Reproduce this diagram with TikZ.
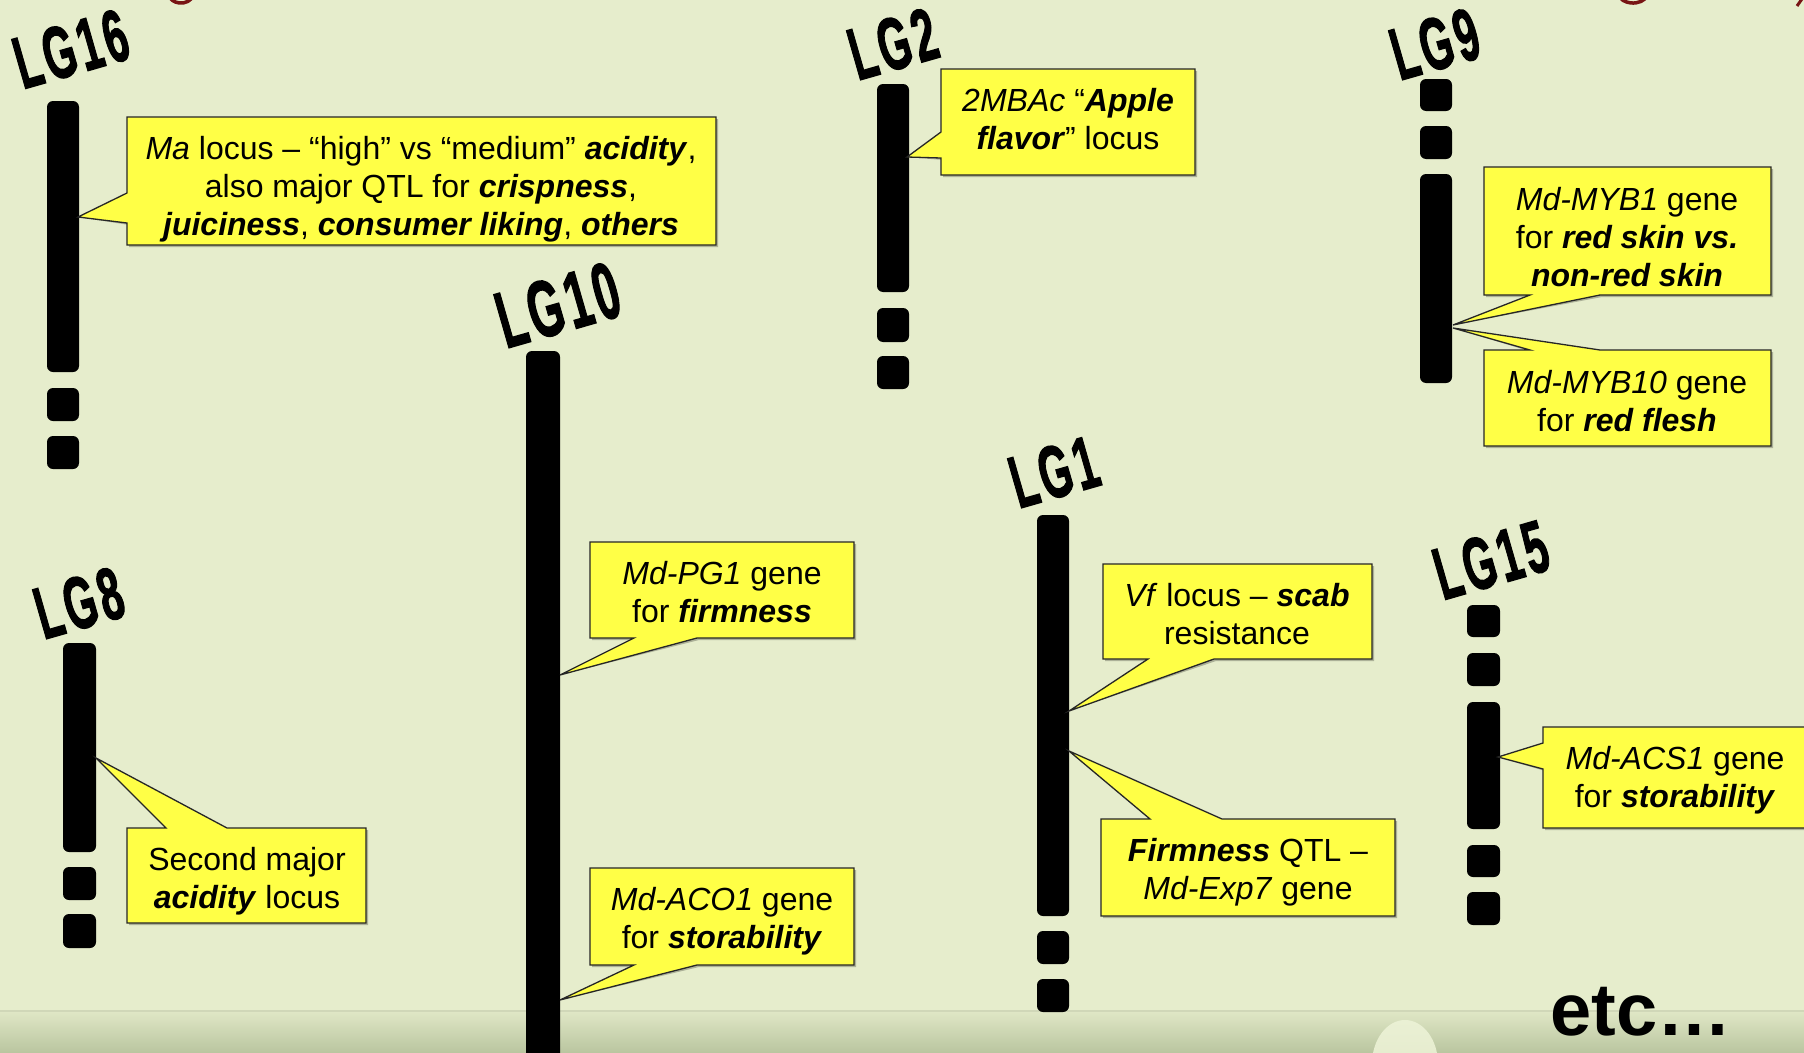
\documentclass[tikz,border=0pt]{standalone}
\usepackage{fontspec}
\setmainfont{Liberation Sans}
\newfontfamily\lgfont{Liberation Sans Bold}[FakeBold=2,LetterSpace=9]
\usetikzlibrary{calc}
\definecolor{bgcol}{RGB}{230,237,204}
\definecolor{callyellow}{RGB}{255,255,70}
\definecolor{bandtop}{RGB}{224,231,198}
\definecolor{bandbot}{RGB}{186,198,160}
\definecolor{bandline}{RGB}{208,215,184}
\definecolor{blobcol}{RGB}{234,240,212}
\definecolor{titlered}{RGB}{120,20,20}
\newcommand{\BI}[1]{\textbf{\textit{#1}}}
\newcommand{\callshape}[1]{\fill[black,opacity=0.25,xshift=2pt,yshift=-2pt] #1;\filldraw[callout] #1;}
\tikzset{
  chrom/.style={fill=black, rounded corners=6pt},
  callout/.style={fill=callyellow, draw=black!85, line width=1.3pt, line join=miter},
  calltext/.style={font=\fontsize{32}{38}\selectfont, align=center, inner sep=0pt},
  lglabel/.style={font=\lgfont\fontsize{74}{74}\selectfont, rotate=16, xscale=0.56, inner sep=0pt},
}
\begin{document}
\begin{tikzpicture}[x=1pt, y=-1pt]
\useasboundingbox (0,0) rectangle (1804,1052);
\clip (0,0) rectangle (1804,1052);
% background
\fill[bgcol] (0,0) rectangle (1804,1052);
\shade[top color=bandtop, bottom color=bandbot] (0,1011) rectangle (1804,1052);
\draw[bandline, line width=1.2pt] (0,1011) -- (1804,1011);
\shade[top color=blobcol, bottom color=bandtop] (1405,1064) ellipse [x radius=33, y radius=44];
% title fragments (cut off)
\draw[titlered, line width=3.5pt] (192.8,-4.4) arc[start angle=10, end angle=170, x radius=12, y radius=9];
\draw[titlered, line width=3.5pt] (1646.8,-4.4) arc[start angle=10, end angle=170, x radius=14, y radius=9];
\draw[titlered, line width=3pt] (1804,-4) -- (1797,6);

% chromosomes
% LG16
\fill[chrom] (47,101) rectangle (79,372);
\fill[chrom] (47,388) rectangle (79,421);
\fill[chrom] (47,436) rectangle (79,469);
% LG2
\fill[chrom] (877,84) rectangle (909,292);
\fill[chrom] (877,308) rectangle (909,342);
\fill[chrom] (877,356) rectangle (909,389);
% LG9
\fill[chrom] (1420,79) rectangle (1452,111);
\fill[chrom] (1420,126) rectangle (1452,159);
\fill[chrom] (1420,174) rectangle (1452,383);
% LG10
\fill[chrom] (526,351) rectangle (560,1080);
% LG8
\fill[chrom] (63,643) rectangle (96,852);
\fill[chrom] (63,867) rectangle (96,900);
\fill[chrom] (63,914) rectangle (96,948);
% LG1
\fill[chrom] (1037,515) rectangle (1069,916);
\fill[chrom] (1037,931) rectangle (1069,964);
\fill[chrom] (1037,979) rectangle (1069,1012);
% LG15
\fill[chrom] (1467,605) rectangle (1500,637);
\fill[chrom] (1467,653) rectangle (1500,686);
\fill[chrom] (1467,702) rectangle (1500,829);
\fill[chrom] (1467,845) rectangle (1500,877);
\fill[chrom] (1467,892) rectangle (1500,925);

% pointer tips
\coordinate (t16) at (78,217);
\coordinate (t2) at (907,157);
\coordinate (t9a) at (1453,325);
\coordinate (t9b) at (1453,328);
\coordinate (t10a) at (560,675);
\coordinate (t10b) at (560,1000);
\coordinate (t8) at (96,758);
\coordinate (t1a) at (1069,711);
\coordinate (t1b) at (1069,751);
\coordinate (t15) at (1498,757);

% callouts
\callshape{(127,117) -- (716,117) -- (716,245) -- (127,245) -- (127,223) -- (t16) -- (127,193) -- cycle}
\callshape{(941,69) -- (1195,69) -- (1195,175) -- (941,175) -- (941,158) -- (t2) -- (941,132) -- cycle}
\callshape{(1484,167) -- (1771,167) -- (1771,295) -- (1600,295) -- (t9a) -- (1530,295) -- (1484,295) -- cycle}
\callshape{(1484,350) -- (1530,350) -- (t9b) -- (1600,350) -- (1771,350) -- (1771,446) -- (1484,446) -- cycle}
\callshape{(590,542) -- (854,542) -- (854,638) -- (697,638) -- (t10a) -- (634,638) -- (590,638) -- cycle}
\callshape{(590,868) -- (854,868) -- (854,965) -- (697,965) -- (t10b) -- (634,965) -- (590,965) -- cycle}
\callshape{(127,828) -- (166,828) -- (t8) -- (227,828) -- (366,828) -- (366,923) -- (127,923) -- cycle}
\callshape{(1103,564) -- (1372,564) -- (1372,659) -- (1214,659) -- (t1a) -- (1148,659) -- (1103,659) -- cycle}
\callshape{(1101,819) -- (1150,819) -- (t1b) -- (1222,819) -- (1395,819) -- (1395,916) -- (1101,916) -- cycle}
\callshape{(1543,727) -- (1830,727) -- (1830,828) -- (1543,828) -- (1543,769) -- (t15) -- (1543,743) -- cycle}

% callout texts
\node[calltext] (ma) at (421,189) {\textit{Ma} locus – “high” vs “medium” \BI{acidity},\\also major QTL for \BI{crispness},\\\BI{juiciness}, \BI{consumer liking}, \BI{others}};
\node[calltext] (mbac) at (1068,119) {\textit{2MBAc} “\BI{Apple}\\\BI{flavor}” locus};
\node[calltext] (myb1) at (1627,237) {\textit{Md-MYB1} gene\\for \BI{red skin vs.}\\\BI{non-red skin}};
\node[calltext] (myb10) at (1627,401) {\textit{Md-MYB10} gene\\for \BI{red flesh}};
\node[calltext] (pg1) at (722,592) {\textit{Md-PG1} gene\\for \BI{firmness}};
\node[calltext] (aco1) at (722,921) {\textit{Md-ACO1} gene\\for \BI{storability}};
\node[calltext] (second) at (247,881) {Second major\\\BI{acidity} locus};
\node[calltext] (vf) at (1237,614) {\textit{Vf} locus – \BI{scab}\\resistance};
\node[calltext] (firm) at (1248,872) {\BI{Firmness} QTL –\\\textit{Md-Exp7} gene};
\node[calltext] (acs1) at (1675,780) {\textit{Md-ACS1} gene\\for \BI{storability}};

% linkage group labels
\node[lglabel] (lg16) at (71,49) {LG16};
\node[lglabel] (lg2) at (893,44) {LG2};
\node[lglabel] (lg9) at (1435,44) {LG9};
\node[lglabel, font=\lgfont\fontsize{80}{80}\selectfont] (lg10) at (558,305) {LG10};
\node[lglabel] (lg1) at (1054,472) {LG1};
\node[lglabel] (lg8) at (79,603) {LG8};
\node[lglabel] (lg15) at (1491,560) {LG15};

% etc
\node[font=\bfseries\fontsize{74}{74}\selectfont, anchor=base west, inner sep=0pt] (etc) at (1550,1035) {etc…};
\end{tikzpicture}
\end{document}
